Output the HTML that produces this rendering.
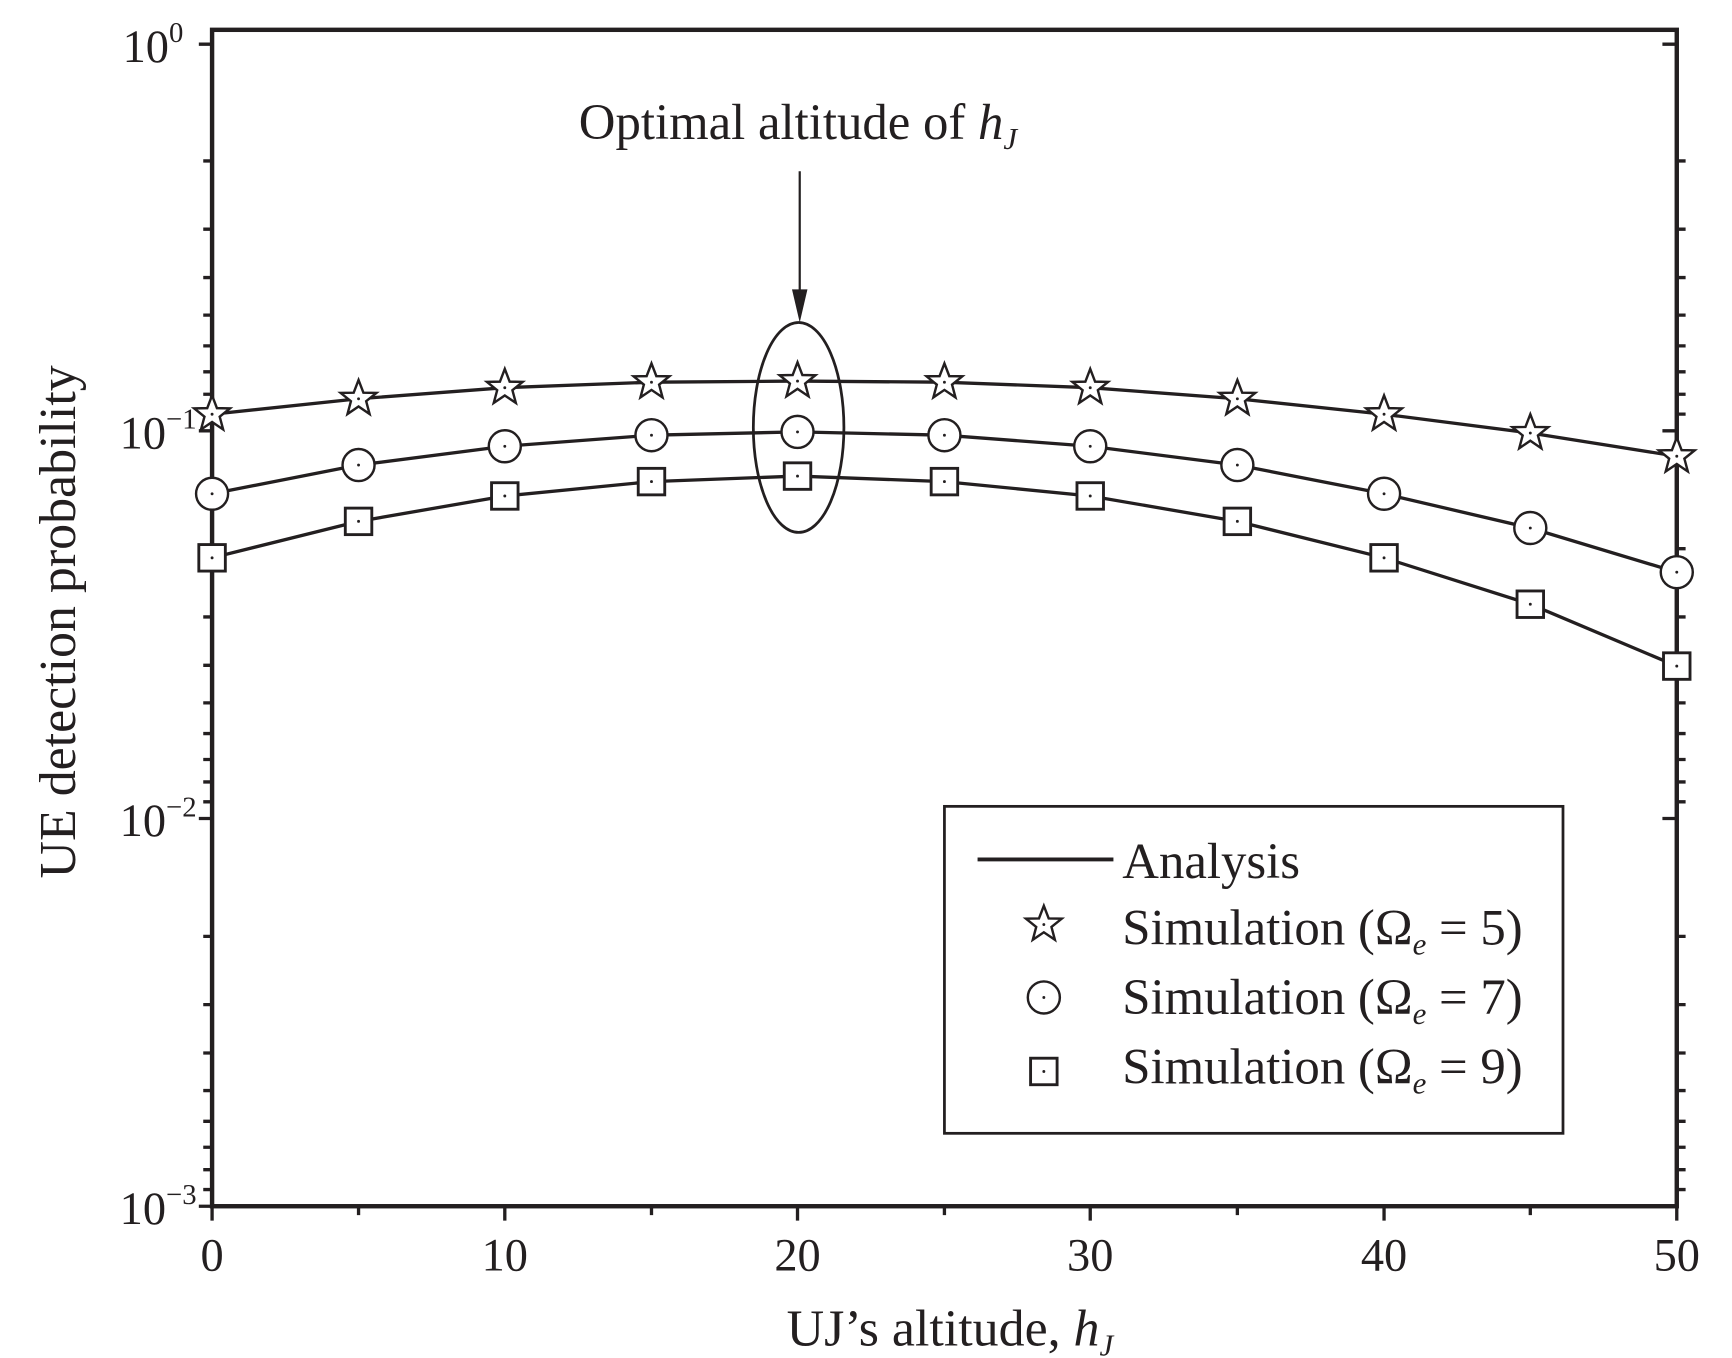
<!DOCTYPE html>
<html><head><meta charset="utf-8"><style>html,body{margin:0;padding:0;background:#fff}svg{display:block}</style></head>
<body>
<svg width="1732" height="1358" viewBox="0 0 1568 1229.4" preserveAspectRatio="none" xmlns="http://www.w3.org/2000/svg" font-family="Liberation Serif, serif" fill="#231f20">
<defs>
<g id="star"><polygon points="0,-17 4.4,-5.5 16.2,-5.3 6.9,2.2 10,13.8 0,7 -10,13.8 -6.9,2.2 -16.2,-5.3 -4.4,-5.5" fill="#fff" stroke="#231f20" stroke-width="2.2"/><circle r="1.3"/></g>
<g id="circ"><circle r="14.5" fill="#fff" stroke="#231f20" stroke-width="2.2"/><circle r="1.3"/></g>
<g id="sq"><rect x="-12" y="-12" width="24" height="24" fill="#fff" stroke="#231f20" stroke-width="2.6"/><circle r="1.3"/></g>
</defs>
<g stroke="#231f20" fill="none">
<rect x="192" y="27" width="1326" height="1065" stroke-width="4"/>
<g stroke-width="3">
<path d="M180 40H192M180 390H192M180 741H192M180 1092H192"/>
<path d="M1505 40H1518M1505 390H1518M1505 741H1518"/>
<path d="M192 1092V1105M457 1092V1105M722 1092V1105M987 1092V1105M1253 1092V1105M1518 1092V1105"/>
<path d="M324.6 1092V1100M589.8 1092V1100M855 1092V1100M1120.2 1092V1100M1385.4 1092V1100"/>
</g>
<path id="mt" stroke-width="3" d="
M184 145.7H192M184 207.5H192M184 251.3H192M184 285.3H192M184 313.1H192M184 336.6H192M184 356.9H192M184 374.9H192
M184 496.7H192M184 558.5H192M184 602.3H192M184 636.3H192M184 664.1H192M184 687.6H192M184 707.9H192M184 725.9H192
M184 847.7H192M184 909.5H192M184 953.3H192M184 987.3H192M184 1015.1H192M184 1038.6H192M184 1058.9H192M184 1076.9H192"/>
<use href="#mt" transform="translate(1326,0) translate(192,0) scale(-1,1) translate(-192,0)"/>
<g stroke-width="3">
<polyline points="192,375 324.6,361 457,351 589.8,346 722,345 855,346 987,351 1120.2,361 1253,375 1385.4,392 1518,413"/>
<polyline points="192,447 324.6,421 457,404 589.8,394 722,391 855,394 987,404 1120.2,421 1253,447 1385.4,478 1518,518"/>
<polyline points="192,505 324.6,472 457,449 589.8,436 722,431 855,436 987,449 1120.2,472 1253,505 1385.4,547 1518,603"/>
</g>
<ellipse cx="723" cy="387" rx="41" ry="95" stroke-width="2.5"/>
<line x1="724" y1="155" x2="724" y2="270" stroke-width="2"/>
</g>
<polygon points="717,262 731,262 724,292"/>
<g>
<use href="#star" x="192" y="375"/><use href="#star" x="324.6" y="361"/><use href="#star" x="457" y="351"/><use href="#star" x="589.8" y="346"/><use href="#star" x="722" y="345"/><use href="#star" x="855" y="346"/><use href="#star" x="987" y="351"/><use href="#star" x="1120.2" y="361"/><use href="#star" x="1253" y="375"/><use href="#star" x="1385.4" y="392"/><use href="#star" x="1518" y="413"/>
<use href="#circ" x="192" y="447"/><use href="#circ" x="324.6" y="421"/><use href="#circ" x="457" y="404"/><use href="#circ" x="589.8" y="394"/><use href="#circ" x="722" y="391"/><use href="#circ" x="855" y="394"/><use href="#circ" x="987" y="404"/><use href="#circ" x="1120.2" y="421"/><use href="#circ" x="1253" y="447"/><use href="#circ" x="1385.4" y="478"/><use href="#circ" x="1518" y="518"/>
<use href="#sq" x="192" y="505"/><use href="#sq" x="324.6" y="472"/><use href="#sq" x="457" y="449"/><use href="#sq" x="589.8" y="436"/><use href="#sq" x="722" y="431"/><use href="#sq" x="855" y="436"/><use href="#sq" x="987" y="449"/><use href="#sq" x="1120.2" y="472"/><use href="#sq" x="1253" y="505"/><use href="#sq" x="1385.4" y="547"/><use href="#sq" x="1518" y="603"/>
</g>
<rect x="855" y="730" width="560" height="296" fill="#fff" stroke="#231f20" stroke-width="2.5"/>
<line x1="885" y1="778" x2="1008" y2="778" stroke="#231f20" stroke-width="3.5"/>
<use href="#star" x="945" y="837"/><use href="#circ" x="945" y="903"/><use href="#sq" x="945" y="970"/>
<g font-size="46">
<text x="1016" y="795">Analysis</text>
<text x="1016" y="855">Simulation (Ω<tspan font-style="italic" font-size="28" dy="9">e</tspan><tspan dy="-9"> = 5)</tspan></text>
<text x="1016" y="918">Simulation (Ω<tspan font-style="italic" font-size="28" dy="9">e</tspan><tspan dy="-9"> = 7)</tspan></text>
<text x="1016" y="981">Simulation (Ω<tspan font-style="italic" font-size="28" dy="9">e</tspan><tspan dy="-9"> = 9)</tspan></text>
<text x="524" y="126">Optimal altitude of <tspan font-style="italic">h</tspan><tspan font-style="italic" font-size="28" dy="9">J</tspan></text>
<text x="860" y="1218" text-anchor="middle" font-size="47">UJ’s altitude, <tspan font-style="italic">h</tspan><tspan font-style="italic" font-size="28" dy="9">J</tspan></text>
<text transform="translate(68,563) rotate(-90)" text-anchor="middle" font-size="47">UE detection probability</text>
</g>
<g font-size="42" text-anchor="middle">
<text x="192" y="1150">0</text><text x="457" y="1150">10</text><text x="722" y="1150">20</text><text x="987" y="1150">30</text><text x="1253" y="1150">40</text><text x="1518" y="1150">50</text>
</g>
<g font-size="42" text-anchor="end">
<text x="166" y="56">10<tspan font-size="26" dy="-18">0</tspan></text>
<text x="178" y="406">10<tspan font-size="26" dy="-18">−1</tspan></text>
<text x="178" y="757">10<tspan font-size="26" dy="-18">−2</tspan></text>
<text x="178" y="1108">10<tspan font-size="26" dy="-18">−3</tspan></text>
</g>
</svg>
</body></html>
